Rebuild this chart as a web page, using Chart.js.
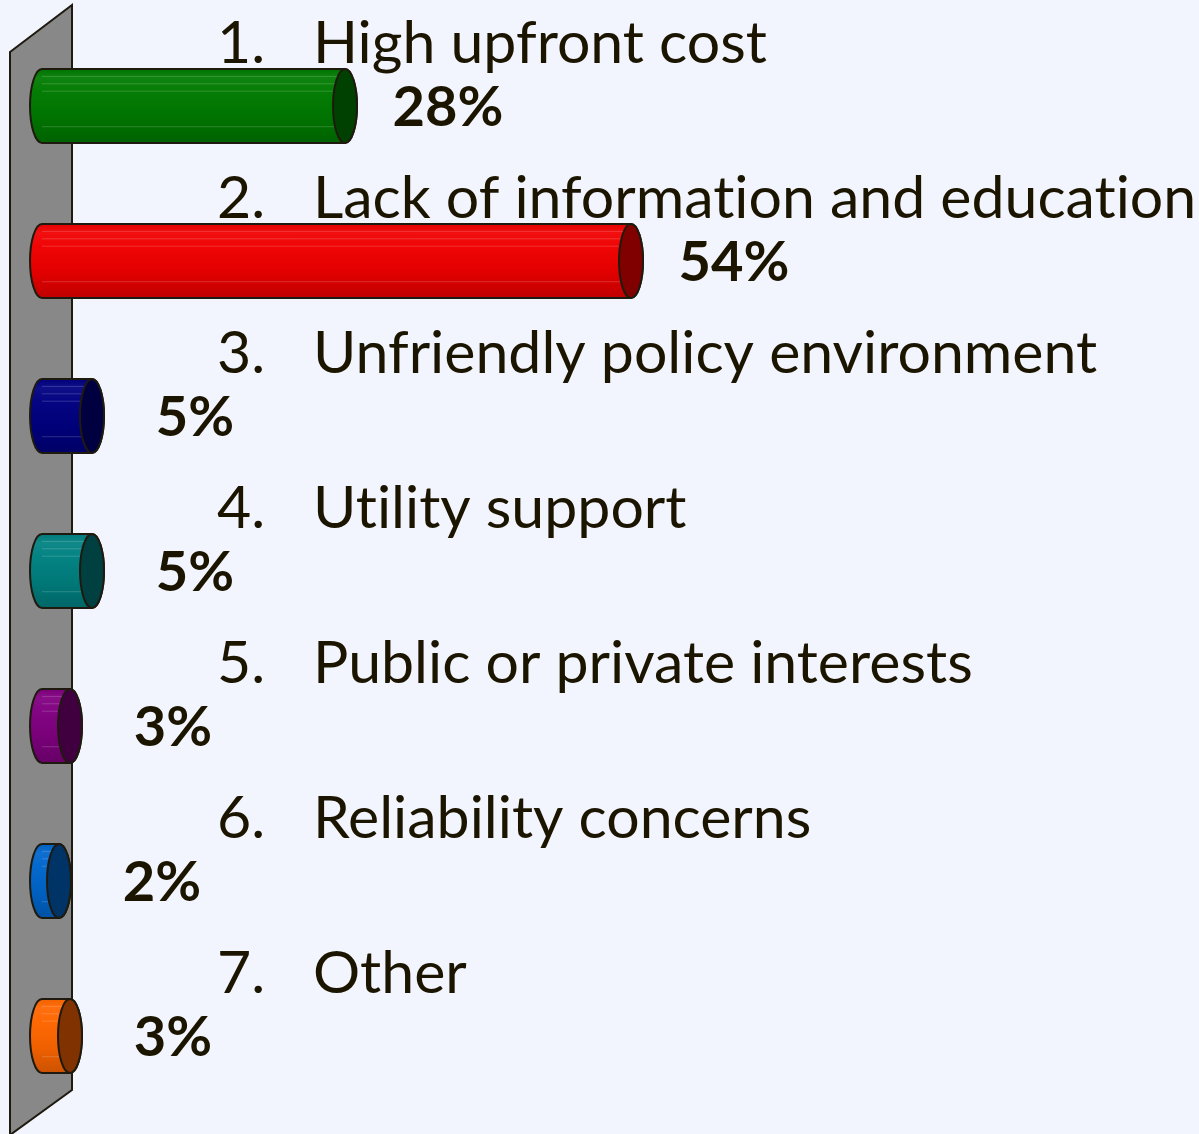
<!DOCTYPE html>
<html>
<head>
<meta charset="utf-8">
<script src="https://cdn.jsdelivr.net/npm/chart.js@4"></script>
<style>
  html, body { margin: 0; padding: 0; background: #F2F5FE; }
  canvas { display: block; }
</style>
</head>
<body>
<canvas id="myChart" width="1199" height="1134"></canvas>
<script>
// survey answers, one bar per answer
const numbers = ['1.', '2.', '3.', '4.', '5.', '6.', '7.']
const answers = [
  'High upfront cost',
  'Lack of information and education',
  'Unfriendly policy environment',
  'Utility support',
  'Public or private interests',
  'Reliability concerns',
  'Other'
]
const shares = [28, 54, 5, 5, 3, 2, 3]

// body colour and end cap colour of each cylinder
const bodyColors = ['#007A00', '#F00000', '#000080', '#008080', '#800080', '#0066CC', '#FF6600']
const capColors  = ['#004000', '#800000', '#000040', '#004040', '#400040', '#003366', '#803300']

const ink = '#1B1500'
const outline = '#1F1A0F'

function shade(hex, amt){
  let n = parseInt(hex.slice(1), 16)
  let r = (n >> 16) & 255, g = (n >> 8) & 255, b = n & 255
  const f = c => Math.max(0, Math.min(255, Math.round(amt > 0 ? c + (255 - c) * amt : c * (1 + amt))))
  return `rgb(${f(r)},${f(g)},${f(b)})`
}

// grey back wall the bars stick out of
const wallPlugin = {
  id: 'wall',
  beforeDatasetsDraw(chart){
    const c = chart.ctx
    c.save()
    c.beginPath()
    c.moveTo(10, 52)
    c.lineTo(72, 5)
    c.lineTo(72, 1090)
    c.lineTo(10, 1135)
    c.closePath()
    c.fillStyle = '#888888'
    c.fill()
    c.lineWidth = 2
    c.strokeStyle = outline
    c.stroke()
    c.restore()
  }
}

// draws each bar as a cylinder plus the texts around it
const cylinderPlugin = {
  id: 'cylinders',
  afterDatasetsDraw(chart){
    const c = chart.ctx
    const meta = chart.getDatasetMeta(0)
    meta.data.forEach((bar, i) => {
      const x1 = bar.base + 5
      const x2 = bar.x
      const yc = bar.y
      const h = bar.height
      const top = yc - h / 2
      const bottom = yc + h / 2
      const rx = 12, ry = h / 2

      c.save()
      // body
      const grad = c.createLinearGradient(0, top, 0, bottom)
      const base = bodyColors[i]
      grad.addColorStop(0, shade(base, -0.05))
      grad.addColorStop(0.12, shade(base, 0.06))
      grad.addColorStop(0.3, shade(base, 0.02))
      grad.addColorStop(0.65, shade(base, -0.06))
      grad.addColorStop(1, shade(base, -0.2))
      c.beginPath()
      c.moveTo(x1, top)
      c.lineTo(x2, top)
      c.ellipse(x2, yc, rx, ry, 0, -Math.PI / 2, Math.PI / 2)
      c.lineTo(x1, bottom)
      c.ellipse(x1, yc, rx, ry, 0, Math.PI / 2, Math.PI * 1.5)
      c.closePath()
      c.fillStyle = grad
      c.fill()

      // faint facet lines along the body
      c.strokeStyle = 'rgba(255,255,255,0.18)'
      c.lineWidth = 1
      ;[0.1, 0.2, 0.3, 0.78].forEach(f => {
        const y = top + h * f
        c.beginPath()
        c.moveTo(x1, y)
        c.lineTo(x2 - 6, y)
        c.stroke()
      })

      c.beginPath()
      c.moveTo(x1, top)
      c.lineTo(x2, top)
      c.ellipse(x2, yc, rx, ry, 0, -Math.PI / 2, Math.PI / 2)
      c.lineTo(x1, bottom)
      c.ellipse(x1, yc, rx, ry, 0, Math.PI / 2, Math.PI * 1.5)
      c.closePath()
      c.lineWidth = 2
      c.strokeStyle = outline
      c.stroke()

      // end cap
      c.beginPath()
      c.ellipse(x2, yc, rx, ry, 0, 0, Math.PI * 2)
      c.fillStyle = capColors[i]
      c.fill()
      c.stroke()

      // answer text above the bar
      c.textRendering = 'optimizeSpeed'
      c.fillStyle = ink
      c.font = '59px Lato'
      c.textAlign = 'left'
      c.textBaseline = 'alphabetic'
      c.fillText(numbers[i], 217, top - 6)
      c.fillText(answers[i], 313, top - 6)

      // share to the right of the bar
      c.font = 'bold 56px Lato'
      c.textAlign = 'center'
      c.fillText(shares[i] + '%', x2 + 103, yc + 20)
      c.restore()
    })
  }
}

const ctx = document.getElementById('myChart').getContext('2d')
new Chart(ctx, {
  type: 'bar',
  data: {
    labels: answers,
    datasets: [{
      data: shares,
      backgroundColor: 'rgba(0,0,0,0)',
      borderWidth: 0,
      barThickness: 74
    }]
  },
  options: {
    indexAxis: 'y',
    responsive: false,
    animation: false,
    layout: { padding: { left: 37, right: 62, top: 28.5, bottom: 20.5 } },
    plugins: { legend: { display: false }, tooltip: { enabled: false } },
    scales: {
      x: { min: 0, max: 100, display: false },
      y: { display: false }
    }
  },
  plugins: [wallPlugin, cylinderPlugin]
})
</script>
</body>
</html>
